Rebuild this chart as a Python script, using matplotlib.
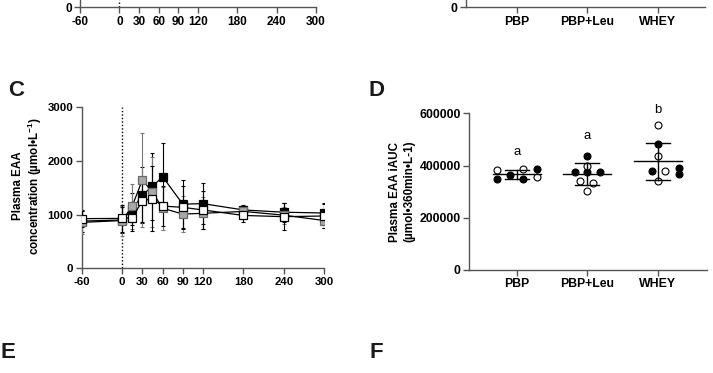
import numpy as np
import matplotlib
matplotlib.use("Agg")
import matplotlib.pyplot as plt

plt.rcParams['font.family'] = ['Liberation Sans', 'DejaVu Sans']
plt.rcParams['font.weight'] = 'bold'
plt.rcParams['axes.unicode_minus'] = False
plt.rcParams['mathtext.fontset'] = 'custom'
plt.rcParams['mathtext.rm'] = 'Liberation Sans:bold'
plt.rcParams['mathtext.bf'] = 'Liberation Sans:bold'

# ---- panel C data: plasma EAA over time (mean, SD) ----
time = [-60, 0, 15, 30, 45, 60, 90, 120, 180, 240, 300]
time_ticks = [-60, 0, 30, 60, 90, 120, 180, 240, 300]

eaa_black = [880, 900, 1100, 1366, 1525, 1708, 1195, 1205, 1087, 1045, 1030]
eaa_black_sd = [200, 250, 300, 530, 620, 620, 450, 380, 90, 180, 180]
eaa_grey = [855, 890, 1160, 1646, 1420, 1120, 1010, 1025, 1060, 990, 890]
eaa_grey_sd = [220, 280, 420, 880, 650, 400, 330, 300, 100, 160, 130]
eaa_white = [925, 930, 945, 1254, 1300, 1160, 1136, 1087, 985, 962, 975]
eaa_white_sd = [150, 250, 250, 400, 600, 380, 400, 350, 120, 250, 220]

# ---- panel D data: iAUC per participant ----
groups = ['PBP', 'PBP+Leu', 'WHEY']
letters = ['a', 'a', 'b']
letter_y = [453000, 513000, 612000]

auc_filled = [[347000, 362000, 350000, 387000],
              [436500, 376000, 375000, 375000],
              [482000, 380000, 390600, 367600]]
auc_open = [[383000, 385000, 356000],
            [399000, 341000, 334000, 304000],
            [555000, 436500, 380000, 341000]]
jit_filled = [[-0.28, -0.095, 0.095, 0.29],
              [0.0, -0.175, 0.0, 0.18],
              [0.0, -0.085, 0.30, 0.30]]
jit_open = [[-0.28, 0.095, 0.29],
            [0.0, -0.104, 0.085, 0.0],
            [0.0, 0.0, 0.1, 0.0]]

W, H = 713, 373
fig = plt.figure(figsize=(W / 100, H / 100), dpi=100)

spine_col = '#555555'


def px_axes(left, right, bottom_y, top_y):
    # pixel box -> figure fraction
    return fig.add_axes([left / W, 1 - bottom_y / H, (right - left) / W, (bottom_y - top_y) / H])


def style(ax, fs):
    for s in ['top', 'right']:
        ax.spines[s].set_visible(False)
    for s in ['left', 'bottom']:
        ax.spines[s].set_color(spine_col)
        ax.spines[s].set_linewidth(1.0)
    ax.tick_params(direction='out', length=4, width=1.0, color=spine_col,
                   labelsize=fs, pad=2)


# ---- panel A (only the bottom is in view) ----
axA = px_axes(80, 316, 7.3, -160)
axA.set_xlim(-60, 300)
axA.set_ylim(0, 3000)
axA.set_xticks(time_ticks)
axA.set_yticks([0])
axA.axvline(0, color='black', ls=':', lw=1)
style(axA, 8.5)

# ---- panel B (only the bottom is in view) ----
axB = px_axes(466, 705, 7.3, -160)
axB.set_xlim(0.28, 3.67)
axB.set_ylim(0, 600000)
axB.set_xticks([1, 2, 3])
axB.set_xticklabels(groups)
axB.set_yticks([0])
style(axB, 8.8)

# ---- panel C ----
axC = px_axes(81.7, 324.3, 268.3, 107.3)
axC.plot([0, 0], [0, 3000], color='black', ls=(0, (1, 1.5)), lw=1, zorder=1)
series = [(eaa_black, eaa_black_sd, 'black', 'black', 'black'),
          (eaa_grey, eaa_grey_sd, '#a9a9a9', '#6a6a6a', '#777777'),
          (eaa_white, eaa_white_sd, 'white', 'black', 'black')]
for k, (m, sd, fc, ec, errc) in enumerate(series):
    axC.errorbar(time, m, yerr=sd, fmt='none', ecolor=errc, elinewidth=0.8,
                 capsize=1.6, capthick=0.8, zorder=2 + k)
    axC.plot(time, m, color='black', lw=0.9, marker='s', ms=5.4,
             mfc=fc, mec=ec, mew=0.9, zorder=5 + k)
axC.set_xlim(-60, 300)
axC.set_ylim(0, 3000)
axC.set_xticks(time_ticks)
axC.set_yticks([0, 1000, 2000, 3000])
style(axC, 8.2)
fig.text(28 / W, 1 - 186 / H, 'Plasma EAA\nconcentration (µmol•L$^{-1}$)',
         rotation=90, ha='center', va='center', multialignment='center',
         fontsize=8.4, linespacing=1.1)

# ---- panel D ----
axD = px_axes(469, 707, 270, 113.3)
for i in range(3):
    xc = i + 1
    vals = np.array(auc_filled[i] + auc_open[i], dtype=float)
    mu, sd = vals.mean(), vals.std(ddof=1)
    axD.plot(xc + np.array(jit_filled[i]), auc_filled[i], 'o', ms=5.0,
             mfc='black', mec='black', mew=0.8, zorder=3)
    axD.plot(xc + np.array(jit_open[i]), auc_open[i], 'o', ms=5.0,
             mfc='white', mec='black', mew=0.8, zorder=3)
    axD.plot([xc - 0.34, xc + 0.34], [mu, mu], color='black', lw=1, zorder=4)
    axD.plot([xc - 0.17, xc + 0.17], [mu + sd, mu + sd], color='black', lw=1, zorder=4)
    axD.plot([xc - 0.17, xc + 0.17], [mu - sd, mu - sd], color='black', lw=1, zorder=4)
    axD.plot([xc, xc], [mu - sd, mu + sd], color='black', lw=1, zorder=4)
    axD.text(xc, letter_y[i], letters[i], ha='center', va='center',
             fontsize=9.5, fontweight='normal')
axD.set_xlim(0.323, 3.70)
axD.set_ylim(0, 600000)
axD.set_xticks([1, 2, 3])
axD.set_xticklabels(groups)
axD.set_yticks([0, 200000, 400000, 600000])
style(axD, 8.8)
fig.text(402 / W, 1 - 191.5 / H, 'Plasma EAA iAUC\n(µmol•360min•L-1)',
         rotation=90, ha='center', va='center', multialignment='center',
         fontsize=8.4, linespacing=1.3)

# panel letters
for lab, x, y in [('C', 16, 90), ('D', 376, 91), ('E', 8, 353), ('F', 376, 353)]:
    fig.text(x / W, 1 - y / H, lab, ha='center', va='center',
             fontsize=16, color='#1a1a1a')

fig.savefig('out.png', dpi=100)
